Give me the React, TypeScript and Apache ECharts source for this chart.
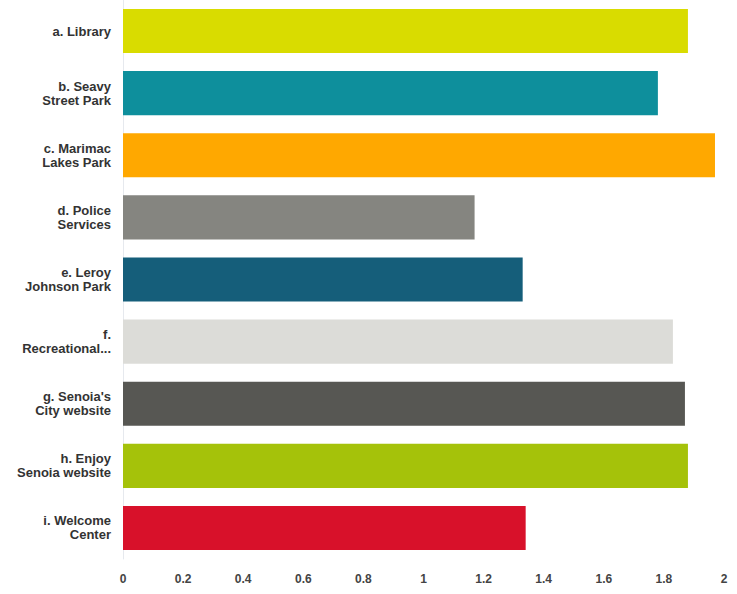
import React, { useEffect, useRef } from "react";
import * as echarts from "echarts";

const categories = [
  "a. Library",
  "b. Seavy\nStreet Park",
  "c. Marimac\nLakes Park",
  "d. Police\nServices",
  "e. Leroy\nJohnson Park",
  "f.\nRecreational...",
  "g. Senoia's\nCity website",
  "h. Enjoy\nSenoia website",
  "i. Welcome\nCenter",
];
const values = [1.88, 1.78, 1.97, 1.17, 1.33, 1.83, 1.87, 1.88, 1.34];
const barColors = [
  "#d9dc00",
  "#0e8f9c",
  "#ffa800",
  "#858580",
  "#155e7a",
  "#dcdcd8",
  "#575753",
  "#a5c20a",
  "#d8112a",
];
const xTicks = [0, 0.2, 0.4, 0.6, 0.8, 1, 1.2, 1.4, 1.6, 1.8, 2];

export default function App() {
  const ref = useRef<HTMLDivElement>(null);
  useEffect(() => {
    if (!ref.current) return;
    const chart = echarts.init(ref.current, undefined, { renderer: "svg" });
    chart.setOption({
      animation: false,
      grid: { left: 123, right: 13, top: -1, bottom: 35, containLabel: false },
      xAxis: {
        type: "value",
        min: xTicks[0],
        max: xTicks[xTicks.length - 1],
        interval: 0.2,
        splitLine: { show: false },
        axisLine: { show: false },
        axisTick: { show: false },
        axisLabel: {
          color: "#444",
          fontSize: 12,
          fontWeight: "bold",
          fontFamily: "Liberation Sans, Arial, sans-serif",
          margin: 14,
          formatter: (v: number) => String(Math.round(v * 10) / 10),
        },
      },
      yAxis: {
        type: "category",
        data: categories,
        inverse: true,
        axisLine: { show: true, lineStyle: { color: "#e6e9ee", width: 1 } },
        axisTick: { show: false },
        axisLabel: {
          color: "#333",
          fontSize: 13,
          fontWeight: "bold",
          lineHeight: 14,
          fontFamily: "Liberation Sans, Arial, sans-serif",
          margin: 12,
          align: "right",
        },
      },
      series: [
        {
          type: "bar",
          data: values.map((v, i) => ({ value: v, itemStyle: { color: barColors[i] } })),
          barCategoryGap: "29%",
        },
      ],
    });
    return () => chart.dispose();
  }, []);
  return <div ref={ref} style={{ width: 737, height: 594, position: "absolute", left: 0, top: 0 }} />;
}
